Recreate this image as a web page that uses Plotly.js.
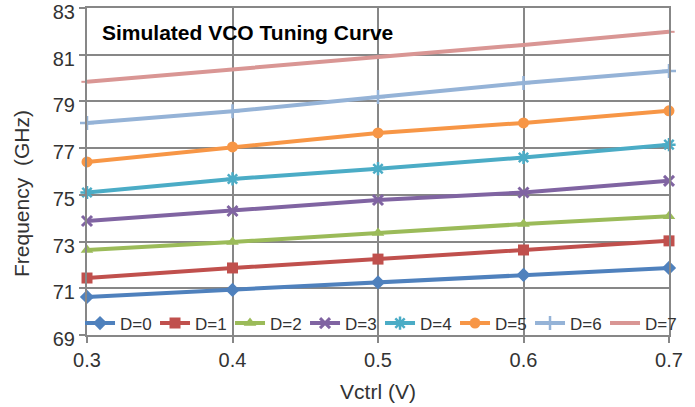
<!DOCTYPE html>
<html><head><meta charset="utf-8">
<script src="https://cdn.plot.ly/plotly-3.0.1.min.js"></script>
<style>html,body{margin:0;padding:0;background:#fff}#chart{width:695px;height:407px}</style>
</head><body><div id="chart"></div>
<script>
const vctrl = [0.3, 0.4, 0.5, 0.6, 0.7];
const seriesNames = ['D=0','D=1','D=2','D=3','D=4','D=5','D=6','D=7'];
const d0 = [70.63, 70.93, 71.25, 71.57, 71.87];
const d1 = [71.44, 71.87, 72.25, 72.64, 73.03];
const d2 = [72.64, 72.98, 73.37, 73.75, 74.08];
const d3 = [73.88, 74.31, 74.78, 75.10, 75.60];
const d4 = [75.10, 75.68, 76.12, 76.60, 77.15];
const d5 = [76.41, 77.05, 77.65, 78.08, 78.60];
const d6 = [78.08, 78.58, 79.19, 79.79, 80.30];
const d7 = [79.84, 80.39, 80.90, 81.42, 81.98];
const yTicks = [69, 71, 73, 75, 77, 79, 81, 83];
const xTicks = [0.3, 0.4, 0.5, 0.6, 0.7];

const values = [d0, d1, d2, d3, d4, d5, d6, d7];
const colors = ['#4F81BD','#C0504D','#9BBB59','#8064A2','#4BACC6','#F79646','#95B3D7','#D99694'];
const symbols = ['diamond','square','triangle-up','x-thin-open','asterisk-open','circle','cross-thin-open','line-ew-open'];
const sizes = [11, 11, 11, 10, 11, 11, 10, 8];
const mlw = [0, 0, 0, 3, 2.5, 0, 2.5, 2];

const traces = values.map((v, i) => ({
  x: vctrl, y: v, name: seriesNames[i], type: 'scatter', mode: 'lines+markers',
  line: {color: colors[i], width: 4},
  marker: {symbol: symbols[i], size: sizes[i], color: colors[i],
           line: {color: colors[i], width: mlw[i]}},
  cliponaxis: false
}));

const gridc = '#878787';
const layout = {
  width: 695, height: 407,
  margin: {l: 87, r: 26, t: 8, b: 72},
  paper_bgcolor: '#fff', plot_bgcolor: '#fff',
  font: {family: 'Liberation Sans, Arial, sans-serif', color: '#333'},
  showlegend: true,
  legend: {orientation: 'h', x: -0.012, xanchor: 'left',
           y: -0.02, yanchor: 'bottom',
           bgcolor: 'rgba(0,0,0,0)', font: {size: 17, color: '#333'},
           itemwidth: 30, entrywidth: 30, entrywidthmode: 'pixels', tracegroupgap: 0},
  xaxis: {range: [0.3, 0.7], tickvals: xTicks, ticktext: xTicks.map(v => v.toFixed(1)),
          showgrid: true, gridcolor: gridc, gridwidth: 2, zeroline: false,
          showline: true, mirror: true, linecolor: gridc, linewidth: 2,
          ticks: 'outside', ticklen: 6, tickwidth: 2, tickcolor: gridc,
          tickfont: {size: 20, color: '#333'}, ticklabeloverflow: 'allow',
          title: {text: 'Vctrl (V)', font: {size: 21, color: '#333'}, standoff: 14}},
  yaxis: {range: [69, 83], tickvals: yTicks,
          showgrid: true, gridcolor: gridc, gridwidth: 2, zeroline: false,
          showline: true, mirror: true, linecolor: gridc, linewidth: 2,
          ticks: 'outside', ticklen: 6, tickwidth: 2, tickcolor: gridc,
          tickfont: {size: 20, color: '#333'}, ticklabeloverflow: 'allow',
          ticklabelshift: 4},
  annotations: [
    {text: '<b>Simulated VCO Tuning Curve</b>', xref: 'paper', yref: 'paper',
     x: 0.022, y: 0.925, xanchor: 'left', yanchor: 'middle', showarrow: false,
     font: {size: 21, color: '#000'}},
    {text: 'Frequency  (GHz)', xref: 'paper', yref: 'paper', textangle: -90,
     x: (22 - 87) / 582, y: (335 - 194) / 327, xanchor: 'center', yanchor: 'middle',
     showarrow: false, font: {size: 21, color: '#333'}}
  ]
};
Plotly.newPlot('chart', traces, layout, {displayModeBar: false, staticPlot: true});
</script></body></html>
